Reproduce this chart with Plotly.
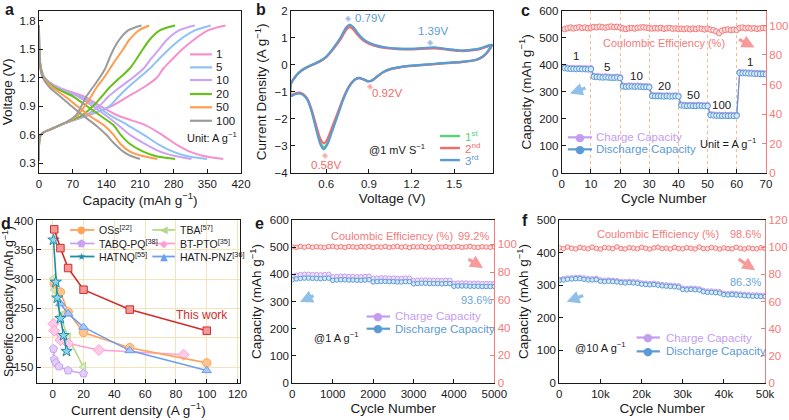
import plotly.graph_objects as go

FONT = "Liberation Sans, Arial, Helvetica, sans-serif"
BLACK = "#1a1a1a"
RED = "#f47a7a"
CHG = "#c59df0"
DIS = "#5b9bd5"

# ---------------- (a) GCD profiles ----------------
rate_labels = ["1", "5", "10", "20", "50", "100"]
rate_colors = ["#f78fcf", "#8ec2f7", "#cda1f4", "#66c01a", "#ff9b4d", "#9b9b9b"]
chg_v = [0.33, 0.58, 0.62, 0.66, 0.72, 0.80, 0.90, 1.00, 1.10, 1.20, 1.30, 1.40, 1.50, 1.60, 1.70, 1.75]
chg_cap_1 = [0, 2, 8, 25, 52, 100, 150, 184, 218, 245, 259, 278, 298, 322, 352, 388]
chg_cap_5 = [0, 2, 8, 25, 52, 98, 146, 165, 185, 208, 231, 250, 270, 293, 325, 357]
chg_cap_10 = [0, 2, 8, 25, 52, 95, 125, 144, 168, 195, 218, 233, 250, 266, 292, 324]
chg_cap_20 = [0, 2, 8, 25, 52, 88, 112, 130, 147, 168, 189, 203, 216, 230, 252, 283]
chg_cap_50 = [0, 2, 8, 25, 52, 80, 95, 108, 120, 135, 148, 161, 175, 188, 208, 229]
chg_cap_100 = [0, 2, 8, 25, 52, 76, 88, 98, 112, 126, 138, 146, 155, 167, 186, 213]
dis_v = [1.75, 1.45, 1.30, 1.20, 1.10, 1.00, 0.90, 0.80, 0.70, 0.60, 0.50, 0.42, 0.38, 0.345]
dis_cap_1 = [0, 1, 4, 12, 40, 95, 128, 165, 222, 256, 285, 315, 340, 383]
dis_cap_5 = [0, 1, 4, 12, 38, 88, 120, 150, 185, 218, 248, 280, 305, 349]
dis_cap_10 = [0, 1, 4, 11, 36, 82, 112, 140, 165, 189, 222, 253, 280, 317]
dis_cap_20 = [0, 1, 4, 10, 32, 72, 100, 128, 155, 170, 190, 218, 240, 283]
dis_cap_50 = [0, 1, 3, 9, 28, 55, 80, 105, 135, 155, 170, 190, 213, 246]
dis_cap_100 = [0, 1, 3, 8, 22, 45, 68, 92, 118, 140, 158, 176, 190, 210]
chg_caps = [chg_cap_1, chg_cap_5, chg_cap_10, chg_cap_20, chg_cap_50, chg_cap_100]
dis_caps = [dis_cap_1, dis_cap_5, dis_cap_10, dis_cap_20, dis_cap_50, dis_cap_100]

# ---------------- (b) CV ----------------
cv_names = ["1<sup>st</sup>", "2<sup>nd</sup>", "3<sup>rd</sup>"]
cv_colors = ["#55d27a", "#f26b6b", "#5b9bd5"]
cv_v = [1.765, 1.73, 1.70, 1.65, 1.55, 1.45, 1.35, 1.25, 1.15, 1.05, 1.00, 0.95, 0.92, 0.89, 0.86, 0.83,
        0.80, 0.76, 0.72, 0.68, 0.64, 0.61, 0.585, 0.56, 0.53, 0.50, 0.47, 0.44, 0.41, 0.38, 0.35,
        0.35, 0.38, 0.42, 0.46, 0.50, 0.55, 0.60, 0.65, 0.70, 0.74, 0.765, 0.79, 0.82, 0.86, 0.90,
        0.95, 1.00, 1.10, 1.20, 1.30, 1.37, 1.45, 1.55, 1.62, 1.68, 1.765]
cv_i_1st = [0.74, 0.45, 0.30, 0.18, 0.11, 0.07, 0.03, -0.01, -0.06, -0.16, -0.27, -0.46, -0.58, -0.60, -0.53, -0.48,
            -0.55, -0.81, -1.26, -1.85, -2.43, -2.86, -3.05, -2.88, -2.35, -1.75, -1.31, -1.11, -1.05, -1.08, -1.15,
            -0.73, -0.45, -0.23, -0.10, 0.00, 0.12, 0.30, 0.61, 0.98, 1.35, 1.46, 1.37, 1.16, 0.94, 0.81,
            0.71, 0.65, 0.60, 0.59, 0.62, 0.63, 0.58, 0.53, 0.55, 0.60, 0.74]
cv_i_2nd = [0.72, 0.44, 0.29, 0.17, 0.10, 0.06, 0.02, -0.02, -0.07, -0.17, -0.28, -0.47, -0.59, -0.61, -0.54, -0.49,
            -0.56, -0.80, -1.22, -1.78, -2.32, -2.72, -2.90, -2.75, -2.26, -1.70, -1.28, -1.09, -1.03, -1.06, -1.13,
            -0.72, -0.45, -0.24, -0.11, -0.01, 0.10, 0.28, 0.58, 0.94, 1.29, 1.39, 1.31, 1.11, 0.90, 0.78,
            0.69, 0.63, 0.58, 0.57, 0.60, 0.61, 0.56, 0.51, 0.53, 0.58, 0.72]
cv_i_3rd = [0.74, 0.45, 0.30, 0.18, 0.11, 0.07, 0.03, -0.01, -0.06, -0.16, -0.27, -0.46, -0.58, -0.60, -0.53, -0.48,
            -0.55, -0.82, -1.28, -1.88, -2.48, -2.92, -3.12, -2.95, -2.40, -1.78, -1.32, -1.12, -1.06, -1.09, -1.16,
            -0.74, -0.46, -0.23, -0.10, 0.00, 0.12, 0.30, 0.62, 1.00, 1.38, 1.49, 1.40, 1.18, 0.95, 0.82,
            0.72, 0.66, 0.60, 0.59, 0.63, 0.64, 0.58, 0.53, 0.55, 0.60, 0.74]
cv_currents = [cv_i_1st, cv_i_2nd, cv_i_3rd]
cv_peak_v = [0.755, 1.333, 0.912, 0.597]
cv_peak_i = [1.70, 0.84, -0.80, -3.35]
cv_peak_colors = ["#8fb8e0", "#8fb8e0", "#f4a3a3", "#f4a3a3"]

# ---------------- (c) rate performance ----------------
cycles_c = list(range(1, 71))
charge_c = [392, 389, 388, 388, 387, 388, 387, 387, 386, 387,
            359, 358, 357, 356, 357, 356, 355, 355, 356, 354,
            323, 322, 323, 323, 322, 323, 322, 321, 321, 320,
            288, 287, 287, 287, 286, 287, 286, 286, 287, 286,
            253, 252, 251, 252, 251, 251, 252, 251, 250, 251,
            217, 216, 215, 215, 214, 215, 214, 215, 214, 215,
            373, 372, 372, 371, 371, 370, 370, 369, 369, 368]
discharge_c = [388, 386, 385, 385, 384, 385, 384, 384, 383, 384,
               356, 355, 354, 353, 354, 353, 352, 352, 353, 351,
               320, 319, 320, 320, 319, 320, 319, 318, 318, 317,
               285, 284, 284, 284, 283, 284, 283, 283, 284, 283,
               250, 249, 248, 249, 248, 248, 249, 248, 247, 248,
               214, 213, 212, 212, 211, 212, 211, 212, 211, 212,
               370, 369, 369, 368, 368, 367, 367, 366, 366, 365]
ce_c = [97.5, 98.2, 98.6, 98.0, 98.4, 98.8, 98.3, 98.6, 98.1, 98.5,
        99.0, 98.7, 99.2, 98.8, 98.5, 99.0, 99.3, 98.9, 99.1, 98.6,
        98.0, 97.6, 98.1, 98.3, 97.9, 98.4, 98.6, 98.8, 98.5, 98.2,
        97.9, 98.2, 98.0, 98.4, 97.7, 98.1, 98.3, 97.8, 98.0, 97.6,
        97.8, 97.5, 98.0, 97.4, 97.9, 97.6, 98.1, 97.7, 97.3, 97.9,
        97.2, 96.8, 95.9, 94.8, 96.5, 97.0, 97.3, 96.9, 97.2, 97.0,
        98.3, 98.6, 98.1, 98.4, 97.9, 98.2, 97.7, 98.0, 98.3, 98.1]
rate_step_labels = ["1", "5", "10", "20", "50", "100", "1"]
rate_step_x = [4.8, 15.4, 25.6, 35.3, 45.1, 54.8, 64.5]
rate_step_y = [431, 393, 360, 321, 287, 252, 409]

# ---------------- (d) comparison ----------------
work_x = [1, 5, 10, 20, 50, 100]
work_y = [385, 353, 319, 282, 248, 212]
oss_x = [1, 5, 10, 20, 50, 100]
oss_y = [292, 278, 244, 209, 183, 157]
tba_x = [0.5, 1, 5, 10, 20]
tba_y = [301, 282, 237, 200, 150]
tabq_x = [0.5, 1, 2, 4, 10, 20]
tabq_y = [181, 163, 157, 151, 144, 139]
btpto_x = [0.5, 1, 5, 10, 30, 85]
btpto_y = [224, 212, 196, 190, 179, 171]
hatnq_x = [0.5, 2, 3, 5, 7, 9]
hatnq_y = [367, 295, 268, 233, 204, 177]
hatnpnz_x = [5, 10, 20, 50, 100]
hatnpnz_y = [258, 241, 218, 178, 144]

# ---------------- (e) 1 A/g long cycling ----------------
cycles_e = list(range(0, 5001, 100))
charge_e = [394, 397, 399, 400, 400, 399, 399, 398, 399, 400,
            391, 392, 393, 393, 392, 392, 391, 391, 392, 393,
            385, 386, 387, 387, 386, 386, 385, 385, 386, 386,
            377, 378, 379, 379, 378, 378, 378, 377, 378, 378,
            367, 368, 368, 368, 367, 367, 367, 366, 366, 366, 366]
discharge_e = [380, 383, 385, 386, 386, 385, 385, 384, 385, 386,
               378, 379, 380, 380, 379, 379, 378, 378, 379, 380,
               372, 373, 374, 374, 373, 373, 372, 372, 373, 373,
               365, 366, 367, 367, 366, 366, 366, 365, 366, 366,
               356, 357, 357, 357, 356, 356, 356, 355, 355, 355, 355]
ce_e = [98.2, 97.8, 98.5, 98.0, 98.6, 97.9, 98.3, 98.1, 97.7, 98.4,
        98.6, 98.0, 98.3, 97.8, 98.5, 98.2, 97.9, 98.4, 98.1, 98.6,
        97.8, 98.3, 98.0, 98.5, 97.9, 98.2, 98.6, 98.0, 98.3, 97.7,
        98.4, 98.1, 98.5, 97.9, 98.2, 97.6, 98.3, 98.0, 98.4, 97.8,
        98.1, 98.5, 97.9, 98.2, 98.6, 98.0, 97.8, 98.3, 98.1, 97.9, 98.2]

# ---------------- (f) 10 A/g long cycling ----------------
cycles_f = list(range(0, 50001, 1000))
charge_f = [318, 320, 322, 323, 324, 324, 322, 320, 320, 321,
            316, 315, 316, 315, 314, 312, 311, 312, 311, 310,
            307, 306, 305, 306, 304, 302, 301, 300, 299, 298,
            291, 290, 291, 290, 289, 284, 282, 282, 281, 280,
            275, 274, 275, 274, 273, 272, 271, 270, 270, 269, 269]
discharge_f = [314, 316, 318, 319, 320, 320, 318, 316, 316, 317,
               312, 311, 312, 311, 310, 308, 307, 308, 307, 306,
               303, 302, 301, 302, 300, 298, 297, 296, 295, 294,
               287, 286, 287, 286, 285, 280, 278, 278, 277, 276,
               271, 270, 271, 270, 269, 268, 267, 266, 266, 265, 265]
ce_f = [99.5, 98.9, 100.1, 99.2, 98.7, 99.8, 99.3, 98.8, 100.0, 99.1,
        98.6, 99.7, 99.4, 98.9, 100.2, 99.0, 98.7, 99.6, 99.3, 98.8,
        99.9, 99.2, 98.6, 99.5, 100.0, 98.9, 99.3, 98.7, 99.8, 99.1,
        98.8, 99.6, 99.2, 98.7, 100.1, 99.0, 98.9, 99.7, 99.3, 98.6,
        99.5, 99.0, 98.8, 99.9, 99.2, 98.7, 99.4, 99.0, 98.8, 99.6, 99.1]

fig = go.Figure()

# ---- (a)
for col, cc, dc in zip(rate_colors, chg_caps, dis_caps):
    fig.add_trace(go.Scatter(x=cc, y=chg_v, mode="lines", xaxis="x", yaxis="y", showlegend=False,
                             line=dict(color=col, width=2, shape="spline", smoothing=0.8)))
    fig.add_trace(go.Scatter(x=dc, y=dis_v, mode="lines", xaxis="x", yaxis="y", showlegend=False,
                             line=dict(color=col, width=2, shape="spline", smoothing=0.8)))

# ---- (b)
for col, cur in zip(cv_colors, cv_currents):
    fig.add_trace(go.Scatter(x=cv_v, y=cur, mode="lines", xaxis="x2", yaxis="y2", showlegend=False,
                             line=dict(color=col, width=2.2, shape="spline", smoothing=0.6)))


# ---- (c)
def cap_trace(x, y, color, fill, xa, ya, size):
    return go.Scatter(x=x, y=y, mode="lines+markers", xaxis=xa, yaxis=ya, showlegend=False,
                      line=dict(color=color, width=1.2),
                      marker=dict(size=size, color=fill, line=dict(color=color, width=1)))


fig.add_trace(cap_trace(cycles_c, charge_c, CHG, "#efe2fc", "x3", "y3", 5.5))
fig.add_trace(cap_trace(cycles_c, discharge_c, DIS, "#d8e8f7", "x3", "y3", 5.5))
fig.add_trace(cap_trace(cycles_c, ce_c, RED, "#fde2e2", "x3", "y4", 5.5))

# ---- (d)
d_series = [
    (tba_x, tba_y, "#b5d98a", "#d6ecbb", "triangle-left", 8.5),
    (tabq_x, tabq_y, "#c9a3f3", "#e2cffb", "pentagon", 8.5),
    (btpto_x, btpto_y, "#ff9fd5", "#ffc9e8", "diamond", 8.5),
    (oss_x, oss_y, "#ffa35c", "#ffc38c", "circle", 8.5),
    (hatnpnz_x, hatnpnz_y, "#6d9ff0", "#a9c6f7", "triangle-up", 8.5),
    (hatnq_x, hatnq_y, "#1d8eaa", "#8fd6ea", "star", 8.5),
    (work_x, work_y, "#d62b2b", "#f19a9a", "square", 7.5),
]
for x, y, col, fill, sym, sz in d_series:
    fig.add_trace(go.Scatter(x=x, y=y, mode="lines+markers", xaxis="x4", yaxis="y5", showlegend=False,
                             line=dict(color=col, width=1.6),
                             marker=dict(symbol=sym, size=sz, color=fill, line=dict(color=col, width=1))))

# ---- (e)
fig.add_trace(cap_trace(cycles_e, charge_e, CHG, "#efe2fc", "x5", "y6", 4.5))
fig.add_trace(cap_trace(cycles_e, discharge_e, DIS, "#d8e8f7", "x5", "y6", 4.5))
fig.add_trace(cap_trace(cycles_e, ce_e, RED, "#fde2e2", "x5", "y7", 4.5))

# ---- (f)
fig.add_trace(cap_trace(cycles_f, charge_f, CHG, "#efe2fc", "x6", "y8", 4.5))
fig.add_trace(cap_trace(cycles_f, discharge_f, DIS, "#d8e8f7", "x6", "y8", 4.5))
fig.add_trace(cap_trace(cycles_f, ce_f, RED, "#fde2e2", "x6", "y9", 4.5))


def axis(**kw):
    base = dict(showline=True, linecolor=BLACK, linewidth=1.2, ticks="inside", ticklen=4, tickwidth=1,
                tickcolor=BLACK, tickfont=dict(size=11.5, color=BLACK, family=FONT),
                title_font=dict(size=13.5, color=BLACK, family=FONT), zeroline=False, showgrid=False,
                mirror=True, automargin=False)
    base.update(kw)
    return base


def raxis(**kw):
    base = dict(showline=True, linecolor=RED, linewidth=1.2, ticks="inside", ticklen=4, tickwidth=1,
                tickcolor=RED, tickfont=dict(size=11.5, color=RED, family=FONT), zeroline=False,
                showgrid=False, side="right", automargin=False)
    base.update(kw)
    return base


TOP = [0.588, 0.9745]
BOT = [0.0881, 0.4762]
UNIT = "g<sup>\u22121</sup>"

fig.update_layout(
    width=789, height=420, margin=dict(l=0, r=0, t=0, b=0, autoexpand=False),
    paper_bgcolor="white", plot_bgcolor="white",
    font=dict(family=FONT, color=BLACK, size=11.5),
    xaxis=axis(domain=[0.0494, 0.3055], range=[0, 420], tickvals=[0, 70, 140, 210, 280, 350, 420],
               title=dict(text="Capacity (mAh " + UNIT + ")", standoff=4), anchor="y"),
    yaxis=axis(domain=TOP, range=[0.198, 1.905], tickvals=[0.3, 0.6, 0.9, 1.2, 1.5, 1.8], tickformat=".1f",
               title=dict(text="Voltage (V)", standoff=4), anchor="x"),
    xaxis2=axis(domain=[0.3688, 0.6252], range=[0.352, 1.775], tickvals=[0.6, 0.9, 1.2, 1.5], tickformat=".1f",
                title=dict(text="Voltage (V)", standoff=4), anchor="y2"),
    yaxis2=axis(domain=TOP, range=[-4, 2], dtick=1,
                title=dict(text="Current Density (A " + UNIT + ")", standoff=4), anchor="x2"),
    xaxis3=axis(domain=[0.712, 0.9707], range=[0, 70], dtick=10, showgrid=True, gridcolor="#f9b98c",
                griddash="dot", gridwidth=1.2, title=dict(text="Cycle Number", standoff=4), anchor="y3"),
    yaxis3=axis(domain=TOP, range=[0, 600], dtick=100, mirror=False,
                title=dict(text="Capacity (mAh " + UNIT + ")", standoff=4), anchor="x3"),
    yaxis4=raxis(domain=TOP, range=[0, 110], tickvals=[0, 20, 40, 60, 80, 100], overlaying="y3", anchor="x3"),
    xaxis4=axis(domain=[0.0465, 0.3042], range=[-10.4, 121.6], tickvals=[0, 20, 40, 60, 80, 100, 120],
                showgrid=True, gridcolor="#f6e4b8", gridwidth=1,
                title=dict(text="Current density (A " + UNIT + ")", standoff=4), anchor="y5"),
    yaxis5=axis(domain=BOT, range=[122.7, 401], tickvals=[150, 200, 250, 300, 350, 400],
                showgrid=True, gridcolor="#f6e4b8", gridwidth=1,
                title=dict(text="Specific capacity (mAh " + UNIT + ")", standoff=4,
                           font=dict(size=12.5, color=BLACK, family=FONT)), anchor="x4"),
    xaxis5=axis(domain=[0.3705, 0.6265], range=[0, 5000], dtick=1000,
                title=dict(text="Cycle Number", standoff=4), anchor="y6"),
    yaxis6=axis(domain=BOT, range=[0, 600], dtick=100, mirror=False,
                title=dict(text="Capacity (mAh " + UNIT + ")", standoff=4), anchor="x5"),
    yaxis7=raxis(domain=BOT, range=[0, 117.6], tickvals=[0, 20, 40, 60, 80, 100], overlaying="y6", anchor="x5"),
    xaxis6=axis(domain=[0.7089, 0.9696], range=[0, 50000], tickvals=[0, 10000, 20000, 30000, 40000, 50000],
                ticktext=["0", "10k", "20k", "30k", "40k", "50k"],
                title=dict(text="Cycle Number", standoff=4), anchor="y8"),
    yaxis8=axis(domain=BOT, range=[0, 500], dtick=100, mirror=False,
                title=dict(text="Capacity (mAh " + UNIT + ")", standoff=4), anchor="x6"),
    yaxis9=raxis(domain=BOT, range=[0, 120], tickvals=[0, 20, 40, 60, 80, 100, 120], overlaying="y8", anchor="x6"),
)

ann = []
shapes = []


def txt(x, y, text, xref, yref, color=BLACK, size=11.5, xanchor="center", bold=False, family=FONT):
    ann.append(dict(x=x, y=y, xref=xref, yref=yref, text=("<b>%s</b>" % text) if bold else text,
                    showarrow=False, xanchor=xanchor, yanchor="middle",
                    font=dict(size=size, color=color, family=family)))


def key_line(ax_id, ay_id, x0, x1, y, color, width=2.2):
    shapes.append(dict(type="line", xref=ax_id + " domain", yref=ay_id + " domain",
                       x0=x0, x1=x1, y0=y, y1=y, line=dict(color=color, width=width)))


# panel letters
for lx, ly, letter in [(0.0115, 0.977, "a"), (0.331, 0.977, "b"), (0.666, 0.975, "c"),
                       (0.008, 0.469, "d"), (0.329, 0.469, "e"), (0.666, 0.476, "f")]:
    txt(lx, ly, letter, "paper", "paper", size=16, bold=True)

# (a) legend
a_rows = [0.731, 0.651, 0.573, 0.487, 0.405, 0.322]
for yy, lab, col in zip(a_rows, rate_labels, rate_colors):
    key_line("x", "y", 0.7475, 0.856, yy, col, 2.2)
    txt(0.868, yy, lab, "x domain", "y domain", size=11.5, xanchor="left")
txt(0.723, 0.222, "Unit: A " + UNIT, "x domain", "y domain", size=11, xanchor="left")

# (b) legend & labels
b_rows = [0.228, 0.154, 0.080]
for yy, lab, col in zip(b_rows, cv_names, cv_colors):
    key_line("x2", "y2", 0.737, 0.835, yy, col, 2.4)
    txt(0.85, yy, lab, "x2 domain", "y2 domain", color=col, size=11.5, xanchor="left")
for pv, pi, pc in zip(cv_peak_v, cv_peak_i, cv_peak_colors):
    txt(pv, pi, "\u25c8", "x2", "y2", color=pc, size=8, family="DejaVu Sans")
txt(0.79, 1.72, "0.79V", "x2", "y2", color="#5b9bd5", xanchor="left")
txt(1.352, 1.24, "1.39V", "x2", "y2", color="#5b9bd5")
txt(0.905, -1.05, "0.92V", "x2", "y2", color="#f26b6b", xanchor="left")
txt(0.597, -3.71, "0.58V", "x2", "y2", color="#f26b6b")
txt(0.89, -3.12, "@1 mV S<sup>\u22121</sup>", "x2", "y2", xanchor="left", size=11)

# (c) labels, legend, arrows
for sx, sy, sl in zip(rate_step_x, rate_step_y, rate_step_labels):
    txt(sx, sy, sl, "x3", "y3", size=11.5)
txt(35.0, 481, "Coulombic Efficiency (%)", "x3", "y3", color=RED, size=11)
txt(57.1, 111, "Unit = A " + UNIT, "x3", "y3", size=11)


def cap_legend(ax_id, ay_id, x0, x1, xm, xt, rows, size=11.5):
    for yy, lab, col in zip(rows, ["Charge Capacity", "Discharge Capacity"], [CHG, DIS]):
        key_line(ax_id, ay_id, x0, x1, yy, col, 2.2)
        txt(xm, yy, "\u25cf", ax_id + " domain", ay_id + " domain", color=col, size=11, family="DejaVu Sans")
        txt(xt, yy, lab, ax_id + " domain", ay_id + " domain", color=col, size=size, xanchor="left")


cap_legend("x3", "y3", 0.030, 0.148, 0.089, 0.160, [0.220, 0.146])


def arrow(x, y, ax, ay, xref, yref, color):
    ann.append(dict(x=x, y=y, xref=xref, yref=yref, ax=ax, ay=ay, axref="pixel", ayref="pixel", text="",
                    showarrow=True, arrowhead=2, arrowsize=0.8, arrowwidth=3.2, arrowcolor=color))


arrow(2.8, 294, 17, -6, "x3", "y3", "#8fc0ea")
arrow(66.1, 464, -17, -9, "x3", "y3", "#f79a9a")

# (d) legend & label
d_leg = [
    (0.164, 0.284, 0.221, 0.295, 0.939, "#ffa35c", "\u25cf", "OSs<sup>[22]</sup>"),
    (0.164, 0.284, 0.221, 0.295, 0.856, "#c9a3f3", "\u2b1f", "TABQ-PQ<sup>[38]</sup>"),
    (0.164, 0.284, 0.221, 0.295, 0.776, "#1d8eaa", "\u2605", "HATNQ<sup>[55]</sup>"),
    (0.569, 0.680, 0.626, 0.694, 0.939, "#b5d98a", "\u25c0", "TBA<sup>[57]</sup>"),
    (0.569, 0.680, 0.626, 0.694, 0.856, "#ff9fd5", "\u25c6", "BT-PTO<sup>[35]</sup>"),
    (0.569, 0.680, 0.626, 0.694, 0.776, "#6d9ff0", "\u25b2", "HATN-PNZ<sup>[36]</sup>"),
]
for x0, x1, xm, xt, yy, col, sym, lab in d_leg:
    key_line("x4", "y5", x0, x1, yy, col, 1.8)
    txt(xm, yy, sym, "x4 domain", "y5 domain", color=col, size=10, family="DejaVu Sans")
    txt(xt, yy, lab, "x4 domain", "y5 domain", size=10.5, xanchor="left")
txt(97, 239, "This work", "x4", "y5", color="#d62b2b", size=12)

# (e) labels
txt(2460, 542, "Coulombic Efficiency (%)", "x5", "y6", color=RED, size=11)
txt(4480, 542, "99.2%", "x5", "y6", color=RED, size=11)
txt(4564, 305, "93.6%", "x5", "y6", color="#6aa5d8", size=11)
txt(480, 170, "@1 A " + UNIT, "x5", "y6", size=11, xanchor="left")
cap_legend("x5", "y6", 0.368, 0.484, 0.426, 0.497, [0.408, 0.333])
arrow(190, 298, 15, -7, "x5", "y6", "#8fc0ea")
arrow(4720, 423, -16, -10, "x5", "y6", "#f79a9a")

# (f) labels
txt(23870, 456, "Coulombic Efficiency (%)", "x6", "y8", color=RED, size=11)
txt(45140, 456, "98.6%", "x6", "y8", color=RED, size=11)
txt(45140, 310, "86.3%", "x6", "y8", color="#6aa5d8", size=11)
txt(3400, 111, "@10 A " + UNIT, "x6", "y8", size=11, xanchor="left")
cap_legend("x6", "y8", 0.376, 0.489, 0.433, 0.509, [0.279, 0.194])
arrow(1800, 249, 18, -7, "x6", "y8", "#8fc0ea")
arrow(47600, 346, -18, -12, "x6", "y8", "#f79a9a")

fig.update_layout(annotations=ann, shapes=shapes)
fig.write_html("out.html", config={"displayModeBar": False},
               post_script="document.body.style.margin='0px';document.body.style.padding='0px';")
